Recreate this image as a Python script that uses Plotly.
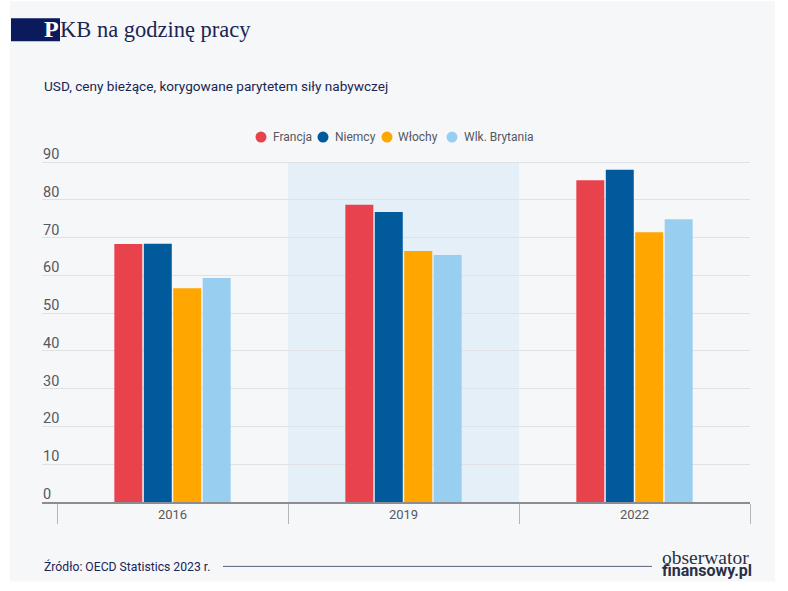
import plotly.graph_objects as go

# Values (USD per hour)
years = ['2016', '2019', '2022']
francja = [68.3, 78.7, 85.2]
niemcy = [68.4, 76.8, 88.0]
wlochy = [56.6, 66.5, 71.4]
brytania = [59.3, 65.4, 74.9]

series_names = ['Francja', 'Niemcy', 'Włochy', 'Wlk. Brytania']
series_values = [francja, niemcy, wlochy, brytania]
series_colors = ['#e8434c', '#005a9c', '#ffa600', '#98cff0']
y_ticks = [0, 10, 20, 30, 40, 50, 60, 70, 80, 90]

# Pixel x of each legend circle
legend_x = [261, 323, 387, 452]

W, H = 788, 591
L, R, T, B = 42, 38, 161, 88.5
NAVY = '#1a2554'
GREY = '#55585f'
FONT = 'Roboto'


def px_x(px):
    return (px - L) / (W - L - R)


def px_y(py):
    return (H - B - py) / (H - T - B)


fig = go.Figure()

# Bars
for name, values, color in zip(series_names, series_values, series_colors):
    fig.add_trace(go.Bar(x=years, y=values, name=name, marker_color=color,
                         marker_line_width=0, showlegend=False))

fig.update_layout(
    width=W, height=H,
    margin=dict(l=L, r=R, t=T, b=B),
    paper_bgcolor='#ffffff',
    plot_bgcolor='rgba(0,0,0,0)',
    barmode='group', bargap=0.49, bargroupgap=0.05,
    font=dict(family=FONT, color=GREY, size=13),
    showlegend=False,
    xaxis=dict(type='category', range=[-0.565, 2.5], tickson='boundaries',
               ticks='outside', ticklen=20, tickcolor='#b4b6bb', tickwidth=1,
               ticklabelstandoff=-1,
               showline=True, linecolor='#8b8d92', linewidth=2, showgrid=False,
               tickfont=dict(size=13, color=GREY), fixedrange=True),
    yaxis=dict(range=[0, 90.3], tickvals=y_ticks, showticklabels=False,
               gridcolor='#dfe1e5', gridwidth=1, zeroline=False,
               showline=False, ticks='', fixedrange=True),
    shapes=[
        # Light panel behind everything
        dict(type='rect', xref='paper', yref='paper', layer='below',
             x0=px_x(10), x1=px_x(775), y0=px_y(582), y1=px_y(1),
             fillcolor='#f6f7f9', line_width=0),
        # Highlighted middle period
        dict(type='rect', xref='x', yref='y', layer='below', x0=0.5, x1=1.5, y0=0, y1=90,
             fillcolor='#e4eff8', line_width=0),
        # Title box
        dict(type='rect', xref='paper', yref='paper',
             x0=px_x(11), x1=px_x(60), y0=px_y(41), y1=px_y(18),
             fillcolor='#0a1a5c', line_width=0),
        # Footer rule
        dict(type='line', xref='paper', yref='paper',
             x0=px_x(223), x1=px_x(652), y0=px_y(567), y1=px_y(567),
             line=dict(color='#5a6180', width=1)),
    ],
)


def label(px, py, text, size, color, family=FONT, anchor='left'):
    # Place a text by its pixel position in the page
    fig.add_annotation(xref='paper', yref='paper', x=px_x(px), y=px_y(py),
                       text=text, showarrow=False, xanchor=anchor, yanchor='middle',
                       borderpad=0, borderwidth=0,
                       font=dict(size=size, color=color, family=family))


# Legend: round markers with the names right next to them
for name, color, cx in zip(series_names, series_colors, legend_x):
    fig.add_shape(type='circle', xref='paper', yref='paper',
                  x0=px_x(cx - 5.5), x1=px_x(cx + 5.5),
                  y0=px_y(137 + 5.5), y1=px_y(137 - 5.5),
                  fillcolor=color, line_width=0)
    label(cx + 11.5, 137, name, 12, GREY)

# Value labels sit just above their gridlines
for v in y_ticks:
    fig.add_annotation(xref='paper', yref='y', x=0, y=v, yshift=7.5,
                       text=str(v), showarrow=False, xanchor='left', yanchor='middle',
                       borderpad=0, font=dict(size=14.5, color=GREY, family=FONT))

label(59, 29, '<b>P</b>', 24, '#ffffff', 'Liberation Serif', 'right')
label(60, 29, 'KB na godzinę pracy', 22.5, NAVY, 'Liberation Serif')
label(44, 86, 'USD, ceny bieżące, korygowane parytetem siły nabywczej', 13.6, NAVY)
label(44, 567, 'Źródło: OECD Statistics 2023 r.', 12.2, NAVY)
label(749, 558, 'obserwator', 19.5, '#2a2f45', 'Liberation Serif', 'right')
label(752, 571, '<b>finansowy.pl</b>', 16, '#2a2f45', FONT, 'right')

fig.write_html('out.html', config=dict(displayModeBar=False),
               post_script="document.body.style.margin='0';")
